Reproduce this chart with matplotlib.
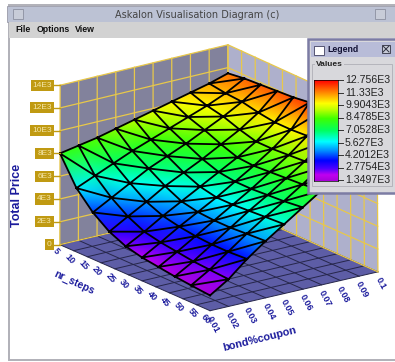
import numpy as np
import matplotlib
matplotlib.use("Agg")
import matplotlib.pyplot as plt
from matplotlib.colors import LinearSegmentedColormap
from matplotlib.patches import Rectangle, Polygon

plt.rcParams["font.family"] = ["Liberation Sans", "DejaVu Sans"]

steps = [5, 10, 15, 20, 25, 30, 35, 40, 45, 50, 55, 60]
coupons = [0.01, 0.02, 0.03, 0.04, 0.05, 0.06, 0.07, 0.08, 0.09, 0.1]
z_ticks = [0, 2, 4, 6, 8, 10, 12, 14]
z_labels = ["0", "2E3", "4E3", "6E3", "8E3", "10E3", "12E3", "14E3"]

# the sheet itself has a coarser grid than the floor
surf_steps = [5, 11, 17, 23, 29, 35, 41, 47, 53, 60]
# total price in E3, one row per surf_steps value
price = [
    [8.0, 8.3, 8.6, 9.0, 9.4, 9.8, 10.2, 10.6, 11.0, 11.5],
    [5.6, 6.3, 7.0, 7.7, 8.3, 8.9, 9.5, 10.1, 10.8, 11.7],
    [4.1, 5.0, 5.9, 6.8, 7.5, 8.2, 9.0, 9.8, 10.7, 11.8],
    [3.05, 4.0, 4.9, 5.9, 6.7, 7.5, 8.4, 9.3, 10.4, 11.9],
    [2.4, 3.3, 4.3, 5.2, 6.1, 7.0, 7.9, 8.9, 10.2, 12.0],
    [2.05, 3.0, 4.0, 4.9, 5.8, 6.8, 7.8, 8.9, 10.2, 12.2],
    [1.85, 2.8, 3.8, 4.8, 5.8, 6.8, 7.9, 9.0, 10.3, 12.3],
    [1.65, 2.6, 3.7, 4.8, 5.9, 6.9, 8.0, 9.1, 10.4, 12.4],
    [1.5, 2.5, 3.7, 4.9, 6.0, 7.0, 8.1, 9.2, 10.5, 12.6],
    [1.35, 2.4, 3.8, 5.0, 6.1, 7.2, 8.3, 9.3, 10.6, 12.756],
]
legend_values = ["12.756E3", "11.33E3", "9.9043E3", "8.4785E3", "7.0528E3",
                 "5.627E3", "4.2012E3", "2.7754E3", "1.3497E3"]

W, H = 395, 362
NAVY = "#1a1a9c"
GOLD = "#e8c84a"
TAG = "#c09a12"

fig = plt.figure(figsize=(W / 100, H / 100), dpi=100, facecolor="white")
ax = fig.add_axes([0, 0, 1, 1])
ax.set_xlim(0, W)
ax.set_ylim(H, 0)
ax.axis("off")

# camera: fit a projective matrix to where the box corners land on screen
box_world = [(5, .01, 0), (60, .01, 0), (60, .1, 0), (5, .1, 0),
             (5, .01, 14), (5, .1, 14), (60, .01, 1.35), (5, .1, 11.5)]
box_screen = [(60, 245), (210, 310), (378, 272), (228, 205),
              (60, 85), (228, 46), (210, 296), (228, 72)]


def norm(s, c, z):
    return (np.asarray(s, float) - 5) / 55, (np.asarray(c, float) - .01) / .09, np.asarray(z, float) / 14


rows = []
for (s, c, z), (u, v) in zip(box_world, box_screen):
    a, b, d = norm(s, c, z)
    rows.append([a, b, d, 1, 0, 0, 0, 0, -u * a, -u * b, -u * d])
    rows.append([0, 0, 0, 0, a, b, d, 1, -v * a, -v * b, -v * d])
rhs = np.array(box_screen, float).ravel()
cam = np.linalg.lstsq(np.array(rows, float), rhs, rcond=None)[0]
cam = np.append(cam, 1).reshape(3, 4)


def proj(s, c, z):
    a, b, d = norm(s, c, z)
    a, b, d = np.broadcast_arrays(a, b, d)
    w = cam[2, 0] * a + cam[2, 1] * b + cam[2, 2] * d + cam[2, 3]
    x = (cam[0, 0] * a + cam[0, 1] * b + cam[0, 2] * d + cam[0, 3]) / w
    y = (cam[1, 0] * a + cam[1, 1] * b + cam[1, 2] * d + cam[1, 3]) / w
    return x, y


def quad(ss, cs, zs, **kw):
    x, y = proj(ss, cs, zs)
    ax.add_patch(Polygon(np.column_stack([x, y]), closed=True, **kw))


def seg(ss, cs, zs, **kw):
    x, y = proj(ss, cs, zs)
    ax.plot(x, y, **kw)


# window chrome
ax.add_patch(Rectangle((9, 5), 388, 355, fc="white", ec="#b0b0b8", lw=1.4, zorder=0))
ax.add_patch(Rectangle((7, 6), 390, 16, fc="#bcc2d4", ec="#9a9aa8", lw=0.6, zorder=1))
ax.add_patch(Rectangle((9, 22), 388, 16, fc="#d2d2d2", ec="none", zorder=1))
ax.add_patch(Rectangle((13, 9), 10, 10, fc="#c8ccd8", ec="#8c90a0", lw=0.6, zorder=2))
ax.add_patch(Rectangle((375, 9), 10, 10, fc="#c8ccd8", ec="#8c90a0", lw=0.6, zorder=2))
ax.text(197, 15, "Askalon Visualisation Diagram (c)", ha="center", va="center",
        fontsize=7, color="#444444", family="DejaVu Sans", zorder=3)
for label, x in zip(["File", "Options", "View"], [15, 37, 75]):
    ax.text(x, 29, label, ha="left", va="center", fontsize=6.3, fontweight="bold",
            color="#111111", zorder=3)

# floor and the two back walls
quad([5, 60, 60, 5], [.01, .01, .1, .1], [0, 0, 0, 0], fc="#5d5da6", ec="none", zorder=2)
quad([5, 5, 5, 5], [.01, .1, .1, .01], [0, 0, 14, 14], fc="#82829c", ec="none", zorder=2)
quad([5, 60, 60, 5], [.1, .1, .1, .1], [0, 0, 14, 14], fc="#aeb0cc", ec="none", zorder=2)

for s in steps:
    seg([s, s], [.01, .1], [0, 0], color="#26264a", lw=0.7, zorder=3)
    seg([s, s], [.1, .1], [0, 14], color=GOLD, lw=0.9, zorder=3)
for c in coupons:
    seg([5, 60], [c, c], [0, 0], color="#26264a", lw=0.7, zorder=3)
    seg([5, 5], [c, c], [0, 14], color=GOLD, lw=0.9, zorder=3)
for z in z_ticks:
    seg([5, 5, 60], [.01, .1, .1], [z, z, z], color=GOLD, lw=0.9, zorder=3)

# surface
cmap = LinearSegmentedColormap.from_list("price", [
    (0.00, "#a800d8"), (0.06, "#c000f0"), (0.12, "#5000ff"), (0.20, "#0000ff"),
    (0.30, "#0090ff"), (0.39, "#00ffff"), (0.50, "#00ff60"), (0.62, "#40ff00"),
    (0.71, "#c0ff00"), (0.77, "#ffff00"), (0.87, "#ff9000"), (1.00, "#ff0000")])
S, C = np.meshgrid(surf_steps, coupons, indexing="ij")
Z = np.array(price)
X, Y = proj(S, C, Z)
n, m = Z.shape
idx = np.arange(n * m).reshape(n, m)
tris = []
for i in range(n - 1):
    for j in range(m - 1):
        tris.append([idx[i, j], idx[i + 1, j], idx[i + 1, j + 1]])
        tris.append([idx[i, j], idx[i + 1, j + 1], idx[i, j + 1]])
tris = np.array(tris)
ax.tripcolor(X.ravel(), Y.ravel(), tris, Z.ravel(), shading="gouraud",
             cmap=cmap, vmin=1.3497, vmax=12.756, zorder=4)
ax.triplot(X.ravel(), Y.ravel(), tris, color="black", lw=1.3, zorder=5)

# tick labels
tag_box = dict(boxstyle="square,pad=0.25", fc=TAG, ec="none")
for z, label in zip(z_ticks, z_labels):
    x, y = proj(5, .01, z)
    ax.text(x - 8, y, label, ha="right", va="center", fontsize=6, color="#f4e6a8",
            bbox=tag_box, zorder=6)
    ax.plot([x - 8, x], [y, y], color=TAG, lw=1, zorder=6)
for s in steps:
    x, y = proj(s, .01, 0)
    ax.text(x - 4, y + 2, str(s), ha="center", va="top", rotation=-48, fontsize=6.5,
            fontweight="bold", color=NAVY, zorder=6)
for c in coupons:
    x, y = proj(60, c, 0)
    ax.text(x + 3, y + 4, f"{c:g}", ha="center", va="top", rotation=-62, fontsize=6.5,
            fontweight="bold", color=NAVY, zorder=6)
ax.text(74, 283, "nr_steps", rotation=-25, ha="center", va="center", fontsize=7.5,
        fontweight="bold", color=NAVY, zorder=6)
ax.text(260, 339, "bond%coupon", rotation=14, ha="center", va="center", fontsize=7.8,
        fontweight="bold", color=NAVY, zorder=6)
ax.text(17, 195, "Total Price", rotation=90, ha="center", va="center", fontsize=9,
        fontweight="bold", color=NAVY, zorder=6)

# legend window
ax.add_patch(Rectangle((308, 39), 88, 154, fc="#d8d8dc", ec="#7c7ca4", lw=1.8, zorder=7))
ax.add_patch(Rectangle((311, 42), 84, 15, fc="#b8bcd8", ec="none", zorder=8))
ax.add_patch(Rectangle((314, 46), 10, 9, fc="white", ec="#404060", lw=0.6, zorder=9))
ax.text(327, 49.5, "Legend", ha="left", va="center", fontsize=6.3, fontweight="bold",
        color="#111133", zorder=9)
ax.add_patch(Rectangle((382, 45), 8, 8, fc="#c8ccd8", ec="#303040", lw=0.6, zorder=9))
ax.plot([383, 389], [46, 52], color="#303040", lw=0.7, zorder=10)
ax.plot([383, 389], [52, 46], color="#303040", lw=0.7, zorder=10)
ax.add_patch(Rectangle((312, 64), 80, 122, fc="none", ec="#b4b4bc", lw=0.7, zorder=9))
ax.text(316, 64, "Values", ha="left", va="center", fontsize=6, fontweight="bold",
        color="#222222", zorder=10, bbox=dict(fc="#d8d8dc", ec="none", pad=0.8))

bar = fig.add_axes([314 / W, 1 - 181 / H, 24 / W, 101 / H], zorder=20)
gradient = np.linspace(1, 0, 256).reshape(-1, 1)
bar.imshow(gradient, aspect="auto", cmap=cmap, extent=[0, 1, 1.3497, 12.756])
bar.set_xticks([])
bar.set_yticks([])
for sp in bar.spines.values():
    sp.set_linewidth(0.5)
for i, label in enumerate(legend_values):
    y = 80 + i * 12.5
    ax.plot([334, 343], [y, y], color="#333333", lw=0.7, zorder=11)
    ax.text(345, y, label, ha="left", va="center", fontsize=7.6, color="#222222", zorder=11)

fig.savefig("out.png", dpi=100)
